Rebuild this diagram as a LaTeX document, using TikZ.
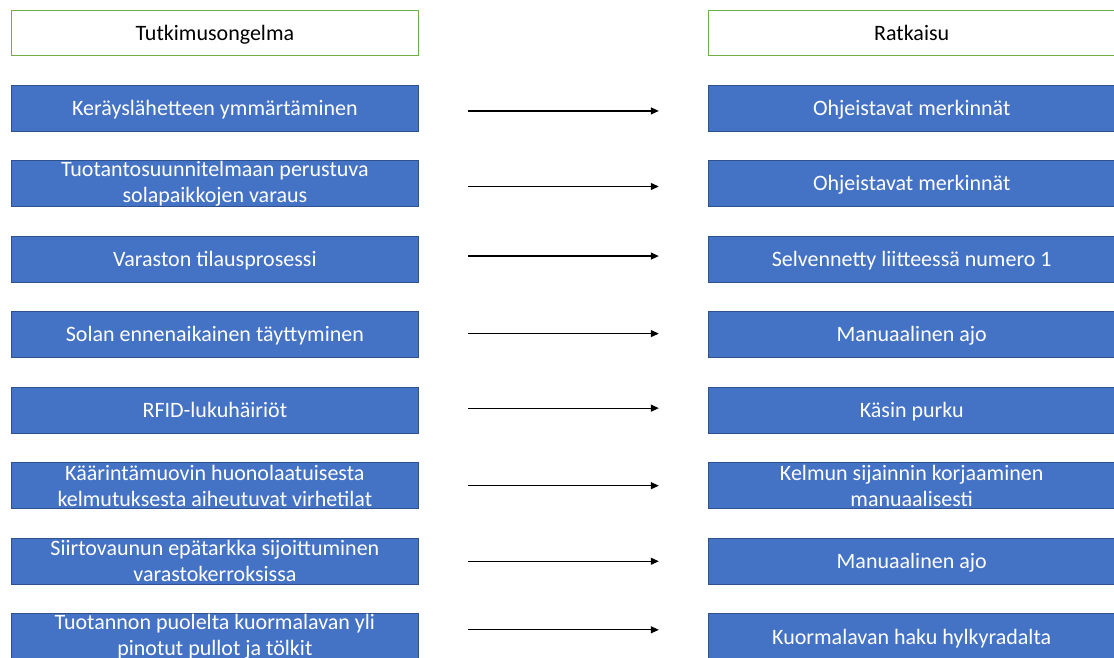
\documentclass[tikz,border=0pt]{standalone}
\usepackage{fontspec}
\setmainfont{Carlito}
\usetikzlibrary{positioning, arrows.meta}
\definecolor{boxblue}{HTML}{4472C4}
\definecolor{boxedge}{HTML}{2F528F}
\definecolor{headgreen}{HTML}{70AD47}
\newcommand{\boxfont}{\fontsize{22}{26}\selectfont}

\begin{document}
\begin{tikzpicture}[
    x=1pt,
    y=-1pt,
    >={Triangle[length=8pt, width=7pt]},
    node distance=28.75pt,
    oneline/.style={text height=20.5pt, text depth=6pt},
    header/.style={rectangle, draw=headgreen, line width=0.8pt, fill=white, minimum width=407pt, minimum height=45pt, inner sep=0pt, font=\boxfont, text=black, oneline},
    problem/.style={rectangle, draw=boxedge, line width=0.8pt, fill=boxblue, minimum width=407pt, minimum height=46pt, inner xsep=0pt, inner ysep=-3pt, align=center, font=\boxfont, text=white},
    solution/.style={problem},
    link/.style={->, line width=1.2pt, shorten >=49pt, shorten <=49pt}
  ]

  % --- AREA ---
  \useasboundingbox (0,0) rectangle (1114,657);
  \clip (0,0) rectangle (1114,657);

  % --- OTSIKOT ---
  \node[header, anchor=north west] (hdrProb) at (11,10) {Tutkimusongelma};
  \node[header, right=289pt of hdrProb] (hdrSol) {Ratkaisu};

  % --- ONGELMAT (vasen sarake) ---
  \node[problem, oneline, below=of hdrProb] (p1) {Keräyslähetteen ymmärtäminen};
  \node[problem, below=of p1] (p2) {Tuotantosuunnitelmaan perustuva\\solapaikkojen varaus};
  \node[problem, oneline, below=of p2] (p3) {Varaston tilausprosessi};
  \node[problem, oneline, below=of p3] (p4) {Solan ennenaikainen täyttyminen};
  \node[problem, oneline, below=of p4] (p5) {RFID-lukuhäiriöt};
  \node[problem, below=of p5] (p6) {Käärintämuovin huonolaatuisesta\\kelmutuksesta aiheutuvat virhetilat};
  \node[problem, below=of p6] (p7) {Siirtovaunun epätarkka sijoittuminen\\varastokerroksissa};
  \node[problem, below=of p7] (p8) {Tuotannon puolelta kuormalavan yli\\pinotut pullot ja tölkit};

  % --- RATKAISUT (oikea sarake) ---
  \node[solution, oneline, below=of hdrSol] (s1) {Ohjeistavat merkinnät};
  \node[solution, oneline, below=of s1] (s2) {Ohjeistavat merkinnät};
  \node[solution, oneline, below=of s2] (s3) {Selvennetty liitteessä numero 1};
  \node[solution, oneline, below=of s3] (s4) {Manuaalinen ajo};
  \node[solution, oneline, below=of s4] (s5) {Käsin purku};
  \node[solution, below=of s5] (s6) {Kelmun sijainnin korjaaminen\\manuaalisesti};
  \node[solution, oneline, below=of s6] (s7) {Manuaalinen ajo};
  \node[solution, oneline, below=of s7] (s8) {Kuormalavan haku hylkyradalta};

  % --- NUOLET ---
  \path ([yshift=-3pt]p1.east) edge[link] ([yshift=-3pt]s1.west);
  \path ([yshift=-3pt]p2.east) edge[link] ([yshift=-3pt]s2.west);
  \path ([yshift=3pt]p3.east) edge[link] ([yshift=3pt]s3.west);
  \path ([yshift=1pt]p4.east) edge[link] ([yshift=1pt]s4.west);
  \path ([yshift=2pt]p5.east) edge[link] ([yshift=2pt]s5.west);
  \path ([yshift=0pt]p6.east) edge[link] ([yshift=0pt]s6.west);
  \path ([yshift=0pt]p7.east) edge[link] ([yshift=0pt]s7.west);
  \path ([yshift=7pt]p8.east) edge[link] ([yshift=7pt]s8.west);

\end{tikzpicture}
\end{document}
